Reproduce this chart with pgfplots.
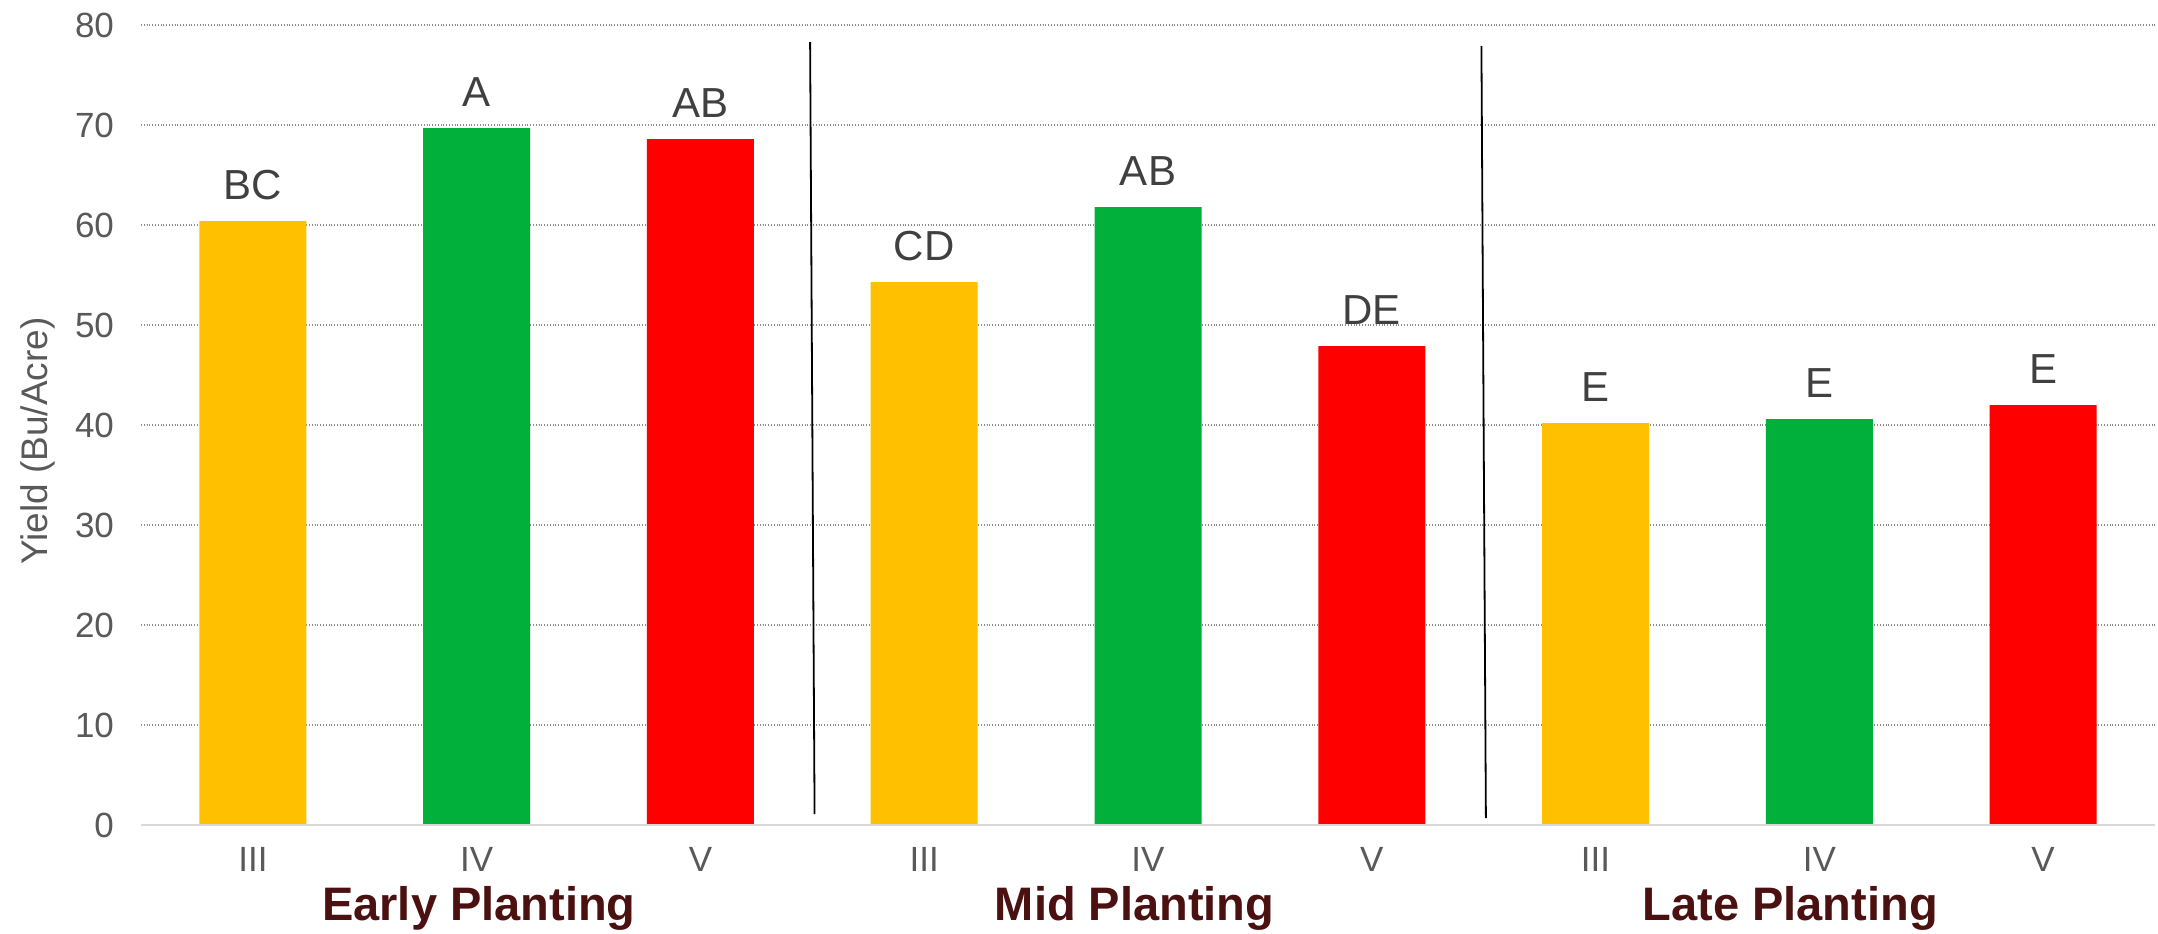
\documentclass[border=0pt]{standalone}
\usepackage{fontspec}
\setmainfont{Liberation Sans}
\usepackage{pgfplots}
\pgfplotsset{compat=1.18}
\usetikzlibrary{calc}

\definecolor{cyellow}{RGB}{255,192,0}
\definecolor{cgreen}{RGB}{0,176,59}
\definecolor{cred}{RGB}{255,0,0}
\definecolor{ticktext}{RGB}{89,89,89}
\definecolor{bartext}{RGB}{64,64,64}
\definecolor{grouptext}{RGB}{75,17,17}
\definecolor{gridc}{RGB}{140,140,140}
\definecolor{basec}{RGB}{217,217,217}

\begin{document}
\begin{tikzpicture}
\begin{axis}[
    scale only axis,
    width=1007pt, height=400pt,
    xmin=0.5, xmax=9.5,
    ymin=0, ymax=80,
    ytick={0,10,...,80},
    xtick={1,...,9},
    xticklabels={III,IV,V,III,IV,V,III,IV,V},
    major tick length=0pt,
    axis line style={draw=none},
    ymajorgrids,
    major grid style={gridc, densely dotted, line width=0.8pt},
    /pgf/number format/assume math mode=true,
    tick label style={font=\fontsize{17.5pt}{20pt}\selectfont, text=ticktext},
    yticklabel style={xshift=-10pt},
    xticklabel style={inner sep=0pt, yshift=-11pt},
    ylabel={Yield (Bu/Acre)},
    every axis y label/.style={at={(rel axis cs:0,0.48)}, rotate=90, anchor=center,
        yshift=51.5pt, font=\fontsize{18.5pt}{22pt}\selectfont, text=ticktext},
    ybar, bar width=53.5pt, bar shift=0pt,
    point meta=explicit symbolic,
    nodes near coords,
    every node near coord/.append style={anchor=base, yshift=11pt,
        font=\fontsize{21pt}{24pt}\selectfont, text=bartext},
    clip=false,
]
\addplot[fill=cyellow, draw=none] coordinates {(1,60.4) [BC] (4,54.3) [CD] (7,40.2) [E]};
\addplot[fill=cgreen, draw=none] coordinates {(2,69.7) [A] (5,61.8) [AB] (8,40.6) [E]};
\addplot[fill=cred, draw=none] coordinates {(3,68.6) [AB] (6,47.9) [DE] (9,42.0) [E]};

\draw[basec, line width=1.2pt] (axis cs:0.5,0) -- (axis cs:9.5,0);
\draw[black, line width=0.9pt] (axis cs:3.49,78.3) -- (axis cs:3.51,1.1);
\draw[black, line width=0.9pt] (axis cs:6.49,77.9) -- (axis cs:6.51,0.7);

\node[font=\fontsize{23.5pt}{26pt}\selectfont\bfseries, text=grouptext, anchor=base, inner sep=0pt]
    at ([yshift=-47.5pt]axis cs:2.01,0) {Early Planting};
\node[font=\fontsize{23.5pt}{26pt}\selectfont\bfseries, text=grouptext, anchor=base, inner sep=0pt]
    at ([yshift=-47.5pt]axis cs:4.94,0) {Mid Planting};
\node[font=\fontsize{23.5pt}{26pt}\selectfont\bfseries, text=grouptext, anchor=base, inner sep=0pt]
    at ([yshift=-47.5pt]axis cs:7.87,0) {Late Planting};

\path ([xshift=-70.5pt,yshift=-54pt]rel axis cs:0,0) rectangle ([xshift=1.5pt,yshift=12.5pt]rel axis cs:1,1);
\end{axis}
\end{tikzpicture}
\end{document}
